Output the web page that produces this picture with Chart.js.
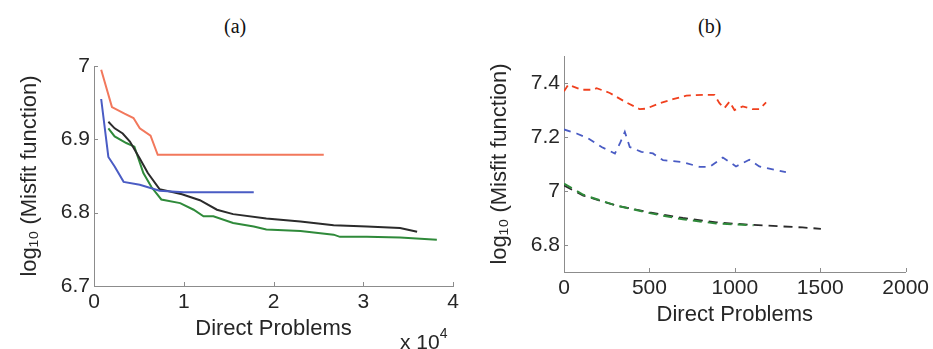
<!DOCTYPE html>
<html lang="en">
<head>
  <meta charset="UTF-8" />
  <title>Misfit function vs direct problems</title>
  <script src="https://cdn.jsdelivr.net/npm/chart.js"></script>
  <style>
    body { margin: 0; width: 933px; height: 349px; background: #fff; position: relative; overflow: hidden; }
    canvas { position: absolute; top: 0; }
    .tag { position: absolute; top: 15px; font: 20px "Liberation Serif", "DejaVu Serif", serif; color: #111; }
    .mult { position: absolute; left: 400px; top: 329px; font: 21px "Liberation Sans", Arial, sans-serif; color: #262626; line-height: 1; }
    .mult sup { font-size: 14px; position: relative; top: -3px; }
  </style>
</head>
<body>
  <div class="tag" style="left:224px">(a)</div>
  <div class="tag" style="left:698px">(b)</div>
  <canvas id="chartA" width="470" height="349" style="left:0"></canvas>
  <canvas id="chartB" width="463" height="349" style="left:470px"></canvas>
  <div class="mult">x 10<sup>4</sup></div>

  <script>
    // (a) : x in units of 10^4 direct problems
    const aRedX   = [0.08, 0.20, 0.34, 0.44, 0.51, 0.63, 0.71, 2.56];
    const aRedY   = [6.995, 6.944, 6.935, 6.929, 6.915, 6.905, 6.879, 6.879];
    const aBlueX  = [0.08, 0.16, 0.23, 0.33, 0.51, 0.73, 1.00, 1.78];
    const aBlueY  = [6.955, 6.876, 6.863, 6.842, 6.838, 6.830, 6.828, 6.828];
    const aBlackX = [0.16, 0.23, 0.32, 0.40, 0.51, 0.60, 0.73, 0.98, 1.18, 1.37, 1.55, 1.92, 2.30, 2.67, 3.04, 3.41, 3.60];
    const aBlackY = [6.924, 6.915, 6.908, 6.897, 6.874, 6.854, 6.832, 6.825, 6.817, 6.804, 6.798, 6.792, 6.788, 6.783, 6.781, 6.779, 6.774];
    const aGreenX = [0.16, 0.23, 0.36, 0.45, 0.55, 0.64, 0.75, 0.96, 1.11, 1.22, 1.33, 1.55, 1.78, 1.92, 2.30, 2.67, 2.74, 3.04, 3.41, 3.82];
    const aGreenY = [6.915, 6.904, 6.895, 6.890, 6.854, 6.835, 6.818, 6.813, 6.804, 6.795, 6.795, 6.786, 6.781, 6.777, 6.775, 6.770, 6.767, 6.767, 6.766, 6.763];
    const aXTicks = [0, 1, 2, 3, 4];
    const aYTicks = [6.7, 6.8, 6.9, 7];

    // (b)
    const bRedX   = [0, 25, 103, 171, 191, 268, 356, 443, 482, 560, 638, 716, 813, 881, 910, 939, 969, 998, 1046, 1104, 1143, 1183];
    const bRedY   = [7.369, 7.394, 7.375, 7.375, 7.381, 7.363, 7.331, 7.303, 7.305, 7.325, 7.340, 7.353, 7.356, 7.356, 7.325, 7.307, 7.331, 7.300, 7.313, 7.303, 7.303, 7.328];
    const bBlueX  = [0, 74, 142, 220, 298, 327, 356, 385, 453, 521, 580, 696, 794, 852, 930, 1007, 1085, 1143, 1299];
    const bBlueY  = [7.228, 7.213, 7.195, 7.163, 7.139, 7.176, 7.219, 7.163, 7.145, 7.139, 7.114, 7.107, 7.089, 7.089, 7.124, 7.091, 7.116, 7.091, 7.070];
    const bGreenX = [0, 113, 307, 502, 696, 891, 1110];
    const bGreenY = [7.027, 6.986, 6.946, 6.918, 6.895, 6.880, 6.873];
    const bBlackX = [0, 113, 307, 502, 696, 891, 1085, 1396, 1504];
    const bBlackY = [7.020, 6.983, 6.946, 6.921, 6.900, 6.884, 6.875, 6.865, 6.860];
    const bXTicks = [0, 500, 1000, 1500, 2000];
    const bYTicks = [6.8, 7, 7.2, 7.4];

    const FONT = '"Liberation Sans", Arial, sans-serif';
    const AXIS = '#8c8c8c';
    const TEXT = '#262626';

    const pts = (xs, ys) => xs.map((x, i) => ({ x, y: ys[i] }));

    // matlab-style tick marks pointing into the plot
    const inwardTicks = {
      id: 'inwardTicks',
      afterDraw(chart) {
        const { ctx, chartArea: area, scales: { x, y } } = chart;
        ctx.save();
        ctx.strokeStyle = AXIS;
        ctx.lineWidth = 1;
        ctx.beginPath();
        x.ticks.forEach(t => {
          const px = Math.round(x.getPixelForValue(t.value)) + 0.5;
          ctx.moveTo(px, area.bottom);
          ctx.lineTo(px, area.bottom - 4);
        });
        y.ticks.forEach(t => {
          const py = Math.round(y.getPixelForValue(t.value)) + 0.5;
          ctx.moveTo(area.left, py);
          ctx.lineTo(area.left + 4, py);
        });
        ctx.stroke();
        ctx.restore();
      }
    };

    function makeChart(id, datasets, o) {
      return new Chart(document.getElementById(id), {
        type: 'line',
        data: { datasets },
        plugins: [inwardTicks],
        options: {
          responsive: false,
          animation: false,
          layout: { padding: o.padding },
          elements: { point: { radius: 0 }, line: { tension: 0 } },
          plugins: { legend: { display: false }, tooltip: { enabled: false } },
          scales: {
            x: {
              type: 'linear',
              min: o.xTicks[0],
              max: o.xTicks[o.xTicks.length - 1],
              afterBuildTicks: s => { s.ticks = o.xTicks.map(v => ({ value: v })); },
              afterFit: s => { s.height = o.xHeight; },
              grid: { display: false, drawTicks: false },
              border: { display: true, color: AXIS, width: 1 },
              ticks: {
                color: TEXT, padding: 4, font: { family: FONT, size: 21 }, maxRotation: 0,
                callback: v => String(v)
              },
              title: {
                display: true, text: 'Direct Problems', color: TEXT,
                font: { family: FONT, size: 22 }, padding: { top: 0, bottom: o.xTitlePad }
              }
            },
            y: {
              min: o.yMin,
              max: o.yMax,
              afterBuildTicks: s => { s.ticks = o.yTicks.map(v => ({ value: v })); },
              afterFit: s => { s.width = 94; },
              grid: { display: false, drawTicks: false },
              border: { display: true, color: AXIS, width: 1 },
              ticks: {
                color: TEXT, padding: 4, font: { family: FONT, size: 21 },
                callback: v => String(+v.toFixed(1))
              },
              title: {
                display: true, text: 'log\u2081\u2080 (Misfit function)', color: TEXT,
                font: { family: FONT, size: 22 }, padding: { top: 17, bottom: 0 }
              }
            }
          }
        }
      });
    }

    makeChart('chartA', [
      { data: pts(aRedX, aRedY), borderColor: '#f2785c', borderWidth: 2 },
      { data: pts(aBlueX, aBlueY), borderColor: '#4a5cc4', borderWidth: 2 },
      { data: pts(aBlackX, aBlackY), borderColor: '#2b2b2b', borderWidth: 2 },
      { data: pts(aGreenX, aGreenY), borderColor: '#2f8a3a', borderWidth: 2 }
    ], {
      padding: { top: 66, right: 17, left: 0, bottom: 0 },
      xTicks: aXTicks, yTicks: aYTicks, yMin: 6.7, yMax: 7,
      xHeight: 63, xTitlePad: 7
    });

    makeChart('chartB', [
      { data: pts(bRedX, bRedY), borderColor: '#f0401e', borderWidth: 1.8, borderDash: [7, 5] },
      { data: pts(bBlueX, bBlueY), borderColor: '#4a5cc4', borderWidth: 1.8, borderDash: [7, 6] },
      { data: pts(bGreenX, bGreenY), borderColor: '#2f8a3a', borderWidth: 2, borderDash: [9, 6] },
      { data: pts(bBlackX, bBlackY), borderColor: '#2b2b2b', borderWidth: 1.8, borderDash: [9, 6] }
    ], {
      padding: { top: 56, right: 26, left: 0, bottom: 0 },
      xTicks: bXTicks, yTicks: bYTicks, yMin: 6.7, yMax: 7.5,
      xHeight: 77, xTitlePad: 21
    });
  </script>
</body>
</html>
